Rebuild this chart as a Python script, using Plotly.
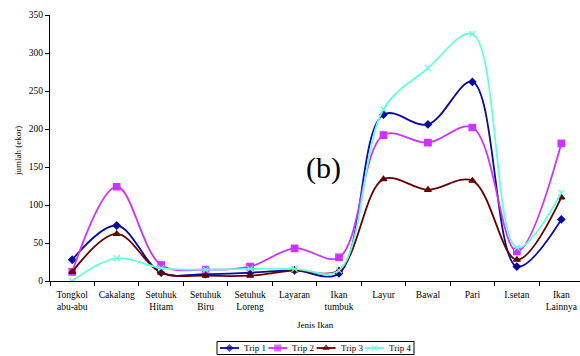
import plotly.graph_objects as go

categories = ["Tongkol<br>abu-abu", "Cakalang", "Setuhuk<br>Hitam", "Setuhuk<br>Biru",
              "Setuhuk<br>Loreng", "Layaran", "Ikan<br>tumbuk", "Layur", "Bawal",
              "Pari", "I.setan", "Ikan<br>Lainnya"]
trip1 = [28, 73, 11, 9, 11, 14, 10, 219, 206, 262, 19, 81]
trip2 = [12, 124, 21, 15, 19, 43, 31, 192, 182, 202, 39, 181]
trip3 = [12, 62, 11, 7, 7, 14, 14, 134, 120, 132, 28, 110]
trip4 = [0, 30, 17, 15, 16, 16, 14, 226, 280, 325, 44, 116]
y_ticks = [0, 50, 100, 150, 200, 250, 300, 350]
series_names = ["Trip 1", "Trip 2", "Trip 3", "Trip 4"]

colors = ["#0a0a9c", "#cc33ff", "#660000", "#66ffdd"]
symbols = ["diamond", "square", "triangle-up", "x-thin"]
sizes = [5.5, 6.5, 6, 6]
values = [trip1, trip2, trip3, trip4]

W, H = 580, 356
serif = "Liberation Serif, Times New Roman, serif"

fig = go.Figure()
for name, vals, color, sym, sz in zip(series_names, values, colors, symbols, sizes):
    fig.add_trace(go.Scatter(
        x=categories, y=vals, name=name, mode="lines+markers", showlegend=False,
        line=dict(color=color, width=1.8, shape="spline", smoothing=1.0),
        marker=dict(symbol=sym, size=sz, color=color, line=dict(color=color, width=1.2)),
    ))

# custom legend (pixel-space overlay axes)
leg_x0 = 220
leg_step = 48.3
leg_y = 348
shapes = [dict(type="rect", xref="x2", yref="y2", x0=217, x1=414, y0=341.5, y1=354.5,
               line=dict(color="black", width=1), fillcolor="rgba(0,0,0,0)", layer="above")]
annotations = []
mx, my, msym, mcol, msz = [], [], [], [], []
for i, (name, color, sym, sz) in enumerate(zip(series_names, colors, symbols, sizes)):
    x0 = leg_x0 + i * leg_step
    shapes.append(dict(type="line", xref="x2", yref="y2", x0=x0, x1=x0 + 19,
                       y0=leg_y, y1=leg_y, line=dict(color=color, width=1.8), layer="below"))
    mx.append(x0 + 9.5)
    my.append(leg_y)
    msym.append(sym)
    mcol.append(color)
    msz.append(sz - 0.5)
    annotations.append(dict(text=name, xref="x2", yref="y2", x=x0 + 22, y=leg_y,
                            xanchor="left", yanchor="middle", showarrow=False,
                            font=dict(size=9)))
fig.add_trace(go.Scatter(x=mx, y=my, xaxis="x2", yaxis="y2", mode="markers",
                         showlegend=False, hoverinfo="skip", cliponaxis=False,
                         marker=dict(symbol=msym, size=msz, color=mcol,
                                     line=dict(color=mcol, width=1.2))))

annotations += [
    dict(text="Jenis Ikan", xref="x2", yref="y2", x=315, y=325, showarrow=False,
         font=dict(size=9), xanchor="center", yanchor="middle"),
    dict(text="jumlah (ekor)", xref="x2", yref="y2", x=18, y=151, showarrow=False,
         textangle=-90, font=dict(size=9), xanchor="center", yanchor="middle"),
    dict(text="(b)", xref="x2", yref="y2", x=323, y=168, showarrow=False,
         font=dict(size=30), xanchor="center", yanchor="middle"),
]

fig.update_layout(
    width=W, height=H,
    margin=dict(l=0, r=0, t=0, b=0, autoexpand=False),
    paper_bgcolor="white", plot_bgcolor="rgba(0,0,0,0)",
    font=dict(family=serif, size=9, color="black"),
    showlegend=False,
    xaxis=dict(type="category", domain=[50 / W, 1], range=[-0.5, 11.42], anchor="y",
               showline=True, linecolor="black", linewidth=1.3, ticks="outside",
               tickson="boundaries", ticklen=4, tickcolor="black", showgrid=False,
               zeroline=False, tickangle=0, automargin=False, ticklabelstandoff=4,
               tickfont=dict(size=9.5)),
    yaxis=dict(range=[0, 350], domain=[1 - 281 / H, 1 - 15 / H], anchor="x",
               tickvals=y_ticks, showline=True, linecolor="black", linewidth=1.3,
               ticks="outside", ticklen=4, tickcolor="black", showgrid=False,
               zeroline=False, automargin=False, tickfont=dict(size=9.5)),
    xaxis2=dict(domain=[0, 1], range=[0, W], anchor="y2", visible=False, fixedrange=True),
    yaxis2=dict(domain=[0, 1], range=[H, 0], anchor="x2", visible=False, fixedrange=True),
    shapes=shapes,
    annotations=annotations,
)

fig.write_html("out.html", config={"displayModeBar": False},
               post_script="document.body.style.margin='0';")
